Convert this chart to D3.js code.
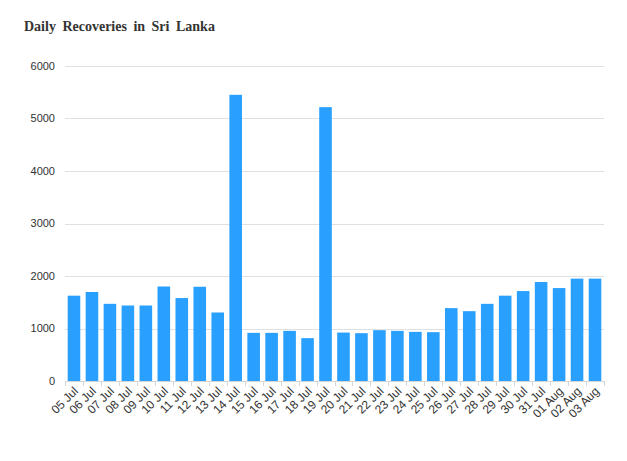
<!DOCTYPE html>
<html>
<head>
<meta charset="utf-8">
<script src="https://cdn.jsdelivr.net/npm/d3@7"></script>
<style>
  body { margin: 0; background: #fff; }
  svg { display: block; }
</style>
</head>
<body>
<svg id="chart" width="627" height="461"></svg>
<script>
const title = "Daily Recoveries in Sri Lanka";
const dates = ["05 Jul","06 Jul","07 Jul","08 Jul","09 Jul","10 Jul","11 Jul","12 Jul","13 Jul","14 Jul",
  "15 Jul","16 Jul","17 Jul","18 Jul","19 Jul","20 Jul","21 Jul","22 Jul","23 Jul","24 Jul",
  "25 Jul","26 Jul","27 Jul","28 Jul","29 Jul","30 Jul","31 Jul","01 Aug","02 Aug","03 Aug"];
const recoveries = [1625, 1695, 1470, 1438, 1438, 1800, 1580, 1795, 1305, 5451,
  917, 917, 955, 816, 5216, 923, 911, 968, 955, 936,
  930, 1388, 1330, 1470, 1625, 1713, 1885, 1770, 1950, 1950];
const yTicks = [0, 1000, 2000, 3000, 4000, 5000, 6000];

const svg = d3.select("#chart");
const mLeft = 65, mRight = 604, mTop = 66, mBottom = 381;

const x = d3.scaleBand().domain(dates).range([mLeft, mRight]).paddingInner(0.3).paddingOuter(0.15);
const y = d3.scaleLinear().domain([0, 6000]).range([mBottom, mTop]);

// title
svg.append("text")
  .attr("x", 24).attr("y", 31)
  .attr("font-family", "'Liberation Serif', serif")
  .attr("font-weight", "bold")
  .attr("font-size", 14)
  .attr("word-spacing", 3)
  .attr("fill", "#333")
  .text(title);

// gridlines
svg.append("g").selectAll("line").data(yTicks.filter(d => d > 0)).join("line")
  .attr("x1", mLeft).attr("x2", mRight)
  .attr("y1", d => Math.round(y(d)) + 0.5).attr("y2", d => Math.round(y(d)) + 0.5)
  .attr("stroke", "#e0e0e0").attr("stroke-width", 1);

// y labels
svg.append("g").selectAll("text").data(yTicks).join("text")
  .attr("x", 55).attr("y", d => y(d))
  .attr("dy", "0.35em")
  .attr("text-anchor", "end")
  .attr("font-family", "'Liberation Sans', Arial, sans-serif")
  .attr("font-size", 11)
  .attr("fill", "#333")
  .text(d => d);

// bars
svg.append("g").selectAll("rect").data(dates).join("rect")
  .attr("x", d => x(d))
  .attr("y", (d, i) => y(recoveries[i]))
  .attr("width", x.bandwidth())
  .attr("height", (d, i) => y(0) - y(recoveries[i]))
  .attr("fill", "#299ffe");

// x axis line
svg.append("line")
  .attr("x1", mLeft).attr("x2", mRight)
  .attr("y1", mBottom + 0.5).attr("y2", mBottom + 0.5)
  .attr("stroke", "#d6d6d6");

const step = x.step();
const off = (step - x.bandwidth()) / 2;
const tickPos = dates.map(d => x(d) - off).concat([x(dates[dates.length - 1]) - off + step]);
svg.append("g").selectAll("line").data(tickPos).join("line")
  .attr("x1", d => Math.round(d) + 0.5).attr("x2", d => Math.round(d) + 0.5)
  .attr("y1", mBottom).attr("y2", mBottom + 5)
  .attr("stroke", "#d6d6d6");

// x labels
svg.append("g").selectAll("text").data(dates).join("text")
  .attr("transform", d => `translate(${x(d) + x.bandwidth() / 2 + 2},${mBottom + 8}) rotate(-45)`)
  .attr("text-anchor", "end")
  .attr("dy", "0.35em")
  .attr("font-family", "'Liberation Sans', Arial, sans-serif")
  .attr("font-size", 12)
  .attr("fill", "#333")
  .text(d => d);
</script>
</body>
</html>
